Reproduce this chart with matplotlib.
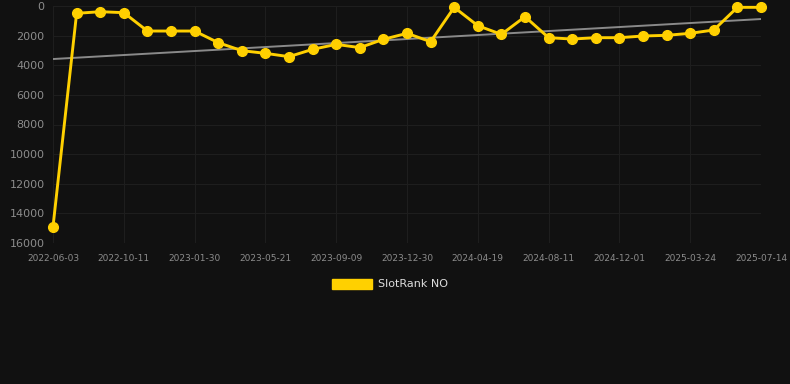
import matplotlib
matplotlib.use("Agg")
import matplotlib.pyplot as plt
from matplotlib.patches import Patch

# rank values, one point per ~38 days (lower = better, axis inverted)
rank = [14900, 495, 385, 450, 1690, 1690, 1690, 2475, 3015, 3195, 3420,
        2925, 2590, 2810, 2250, 1845, 2410, 90, 1330, 1915, 720, 2140,
        2230, 2140, 2140, 2025, 1980, 1845, 1620, 90, 90]
tick_labels = ["2022-06-03", "2022-10-11", "2023-01-30", "2023-05-21",
               "2023-09-09", "2023-12-30", "2024-04-19", "2024-08-11",
               "2024-12-01", "2025-03-24", "2025-07-14"]
trend = [3580, 880]  # trend line start / end

BG = "#111111"
YELLOW = "#FFD000"

fig = plt.figure(figsize=(7.9, 3.84), dpi=100, facecolor=BG)
ax = fig.add_axes([53 / 790, 1 - 243 / 384, (761 - 53) / 790, (243 - 6) / 384])
ax.set_facecolor(BG)

x = list(range(len(rank)))
ax.plot([x[0], x[-1]], trend, color="#8a8a8a", lw=1.4, zorder=2)
ax.plot(x, rank, color=YELLOW, lw=2.1, marker="o", ms=7, zorder=3, clip_on=False)

ax.set_xlim(0, len(rank) - 1)
ax.set_ylim(16000, 0)
ax.set_xticks(x[::3])
ax.set_xticklabels(tick_labels)
ax.set_yticks(range(0, 16001, 2000))

ax.grid(True, color="#1e1e1e", lw=0.8)
ax.set_axisbelow(True)
for s in ax.spines.values():
    s.set_visible(False)
ax.tick_params(axis="x", colors="#8c8c8c", labelsize=6.5, length=0, pad=8)
ax.tick_params(axis="y", colors="#8c8c8c", labelsize=8, length=0, pad=6)

fig.legend(handles=[Patch(facecolor=YELLOW, edgecolor=YELLOW, label="SlotRank NO")],
           loc="center", bbox_to_anchor=(0.5 - 5 / 790, 1 - 284 / 384), frameon=False,
           labelcolor="#dddddd", fontsize=8, handlelength=3.6, handleheight=1.0,
           handletextpad=0.5)

fig.savefig("out.png", dpi=100, facecolor=BG)
plt.close()
